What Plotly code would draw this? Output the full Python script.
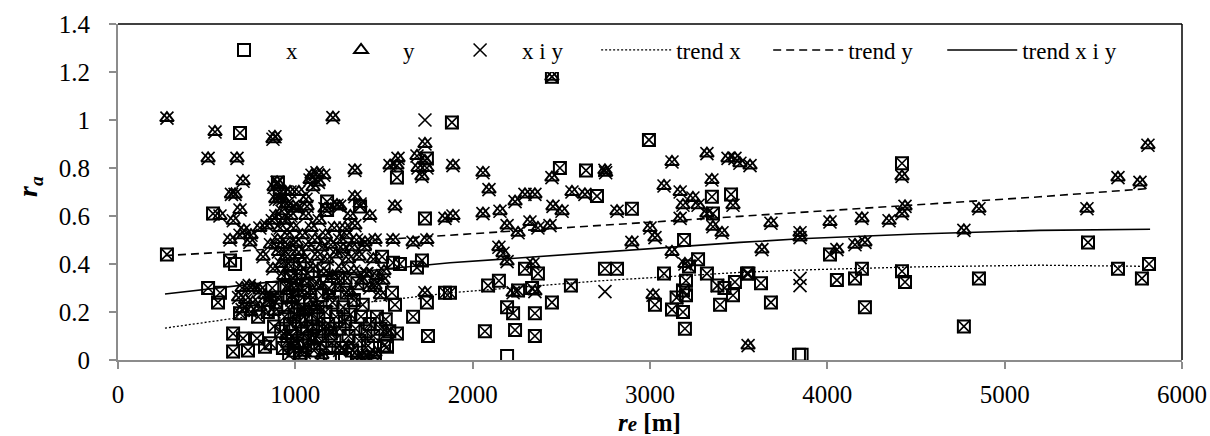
import plotly.graph_objects as go

# ---------------- data ----------------
# series "x" (squares) that also carry an "x i y" cross
sq_x = [276, 536, 688, 632, 508, 575, 564, 649, 705, 784, 829, 649, 733, 688, 790,
        902, 913, 1179, 1179, 1365, 1573, 1742, 1883, 1590, 1551, 1489, 1714, 1686,
        1844, 1742, 1664, 1748, 1562, 1545, 1573, 1517, 1731,
        900, 920, 930, 940, 950, 955, 960, 965, 970, 975, 980, 985, 990, 995, 1000,
        1005, 1010, 1015, 1020, 1025, 1030, 1040, 1045, 1050, 1055, 1060, 1065, 1070,
        1080, 1085, 1090, 1100, 1105, 1110, 1120, 1125, 1130, 1140, 1150, 1155, 1160,
        1170, 1175, 1185, 1190, 1200, 1210, 1220, 1230, 1240, 1250, 1260, 1270, 1280,
        1290, 1300, 1310, 1320, 1330, 1340, 1350, 1360, 1370, 1380, 1395, 1410, 1420,
        1440, 1460, 1480, 1500, 1510, 1530, 860, 880, 890, 870, 845,
        1872, 2087, 2148, 2069, 2239, 2228, 2194, 2256, 2335, 2295, 2368, 2351, 2351,
        2447, 2554, 2746, 2814, 2492, 2639, 2701, 2898, 2994, 3349, 3457, 3355, 3192,
        3271, 3321, 3079, 3203, 3479, 3547, 3395, 3468, 3197, 3124, 3186, 3028, 3186,
        3203, 3150, 3220, 3380, 3420, 2447,
        3555, 3626, 3682, 4054, 4156, 4195, 4212, 4015, 4421, 4438, 4421, 4855, 4770,
        5470, 5639, 5774, 5814]
sq_y = [0.44, 0.61, 0.946, 0.415, 0.30, 0.28, 0.24, 0.11, 0.09, 0.09, 0.055, 0.035, 0.04, 0.195, 0.18,
        0.74, 0.695, 0.66, 0.625, 0.64, 0.76, 0.84, 0.99, 0.40, 0.405, 0.43, 0.415, 0.385,
        0.28, 0.24, 0.18, 0.10, 0.23, 0.28, 0.11, 0.055, 0.59,
        0.26, 0.12, 0.05, 0.18, 0.30, 0.08, 0.22, 0.02, 0.15, 0.35, 0.10, 0.27, 0.04, 0.19, 0.13,
        0.31, 0.07, 0.24, 0.16, 0.40, 0.03, 0.11, 0.21, 0.29, 0.06, 0.17, 0.13, 0.36,
        0.09, 0.25, 0.19, 0.14, 0.04, 0.32, 0.10, 0.22, 0.17, 0.07, 0.27, 0.13, 0.38,
        0.20, 0.05, 0.15, 0.30, 0.11, 0.24, 0.08, 0.18, 0.34, 0.13, 0.05, 0.22, 0.16,
        0.28, 0.10, 0.19, 0.04, 0.25, 0.13, 0.32, 0.08, 0.18, 0.23, 0.12, 0.06, 0.15,
        0.10, 0.18, 0.13, 0.06, 0.17, 0.12, 0.07, 0.14, 0.24, 0.30, 0.20,
        0.28, 0.31, 0.33, 0.12, 0.125, 0.195, 0.22, 0.29, 0.30, 0.38, 0.36, 0.195, 0.10,
        0.24, 0.31, 0.38, 0.38, 0.80, 0.79, 0.683, 0.63, 0.917, 0.68, 0.69, 0.61, 0.50,
        0.42, 0.36, 0.36, 0.33, 0.325, 0.36, 0.23, 0.27, 0.13, 0.21, 0.20, 0.23, 0.29,
        0.27, 0.26, 0.39, 0.31, 0.30, 1.18,
        0.36, 0.32, 0.24, 0.333, 0.34, 0.38, 0.22, 0.44, 0.37, 0.325, 0.82, 0.34, 0.14,
        0.49, 0.38, 0.34, 0.40]

# series "x" squares without a cross
sq_only_x = [2194, 3840, 3855, 660, 1026, 1195, 1280, 1449]
sq_only_y = [0.017, 0.022, 0.022, 0.40, 0.008, 0.008, 0.008, 0.008]

# series "y" (triangles) that also carry an "x i y" cross
tri_x = [276, 547, 508, 671, 705, 660, 688, 575, 874, 885, 897, 930, 970, 987, 1066,
         1083, 1122, 1130, 1212, 1336, 1336, 1365, 1573, 1562, 1534, 1579, 1686, 1731,
         1692, 1742, 1714, 1731, 1094, 1167, 1235, 1844, 1336, 1393, 1551, 1664, 1742,
         1731, 1517, 1449, 1494, 1404, 1382, 1449, 1404, 1889, 1889,
         632, 688, 744, 818, 874, 640, 700, 740, 770, 800, 830, 860, 680, 720, 760, 700,
         750, 800, 850, 880, 710, 750, 800, 840, 870, 890, 860, 650,
         880, 890, 900, 905, 910, 915, 920, 925, 930, 935, 940, 945, 950, 955, 960, 965,
         970, 975, 980, 985, 990, 1000, 1005, 1010, 1015, 1020, 1030, 1040, 1045, 1050,
         1060, 1065, 1075, 1085, 1090, 1100, 1110, 1115, 1125, 1135, 1140, 1150, 1160,
         1170, 1180, 1190, 1200, 1210, 1220, 1230, 1240, 1250, 1260, 1270, 1280, 1290,
         1300, 1310, 1320, 1330, 1345, 1360, 1375, 1390, 1400, 1420, 1440, 1460, 1480,
         1500, 950, 1000, 1050, 1100, 1150, 1200, 1250, 1300, 1350, 1440, 1060, 1100,
         1160, 1020, 945, 1250, 1420, 1450, 1310, 1280,
         2058, 2092, 2058, 2154, 2239, 2295, 2351, 2447, 2560, 2633, 2746, 2750, 2453,
         2504, 2194, 2256, 2323, 2368, 2436, 2814, 2148, 2171, 2194, 2340, 3124, 3321,
         3479, 3349, 3079, 3170, 3186, 3242, 3271, 3321, 3468, 3355, 3406, 3000, 3028,
         3170, 2898, 3124, 3197, 2228, 2351, 3017, 3553, 2447, 3507, 3440,
         3564, 3682, 3631, 3846, 3846, 4015, 4054, 4156, 4212, 4195, 4348, 4421, 4438,
         4855, 4770, 5808, 5639, 5763, 5464, 4421]
tri_y = [1.008, 0.95, 0.84, 0.84, 0.745, 0.69, 0.625, 0.60, 0.92, 0.93, 0.74, 0.67, 0.70, 0.64, 0.64,
         0.75, 0.78, 0.74, 1.01, 0.79, 0.68, 0.65, 0.81, 0.64, 0.81, 0.84, 0.85, 0.83,
         0.80, 0.80, 0.765, 0.90, 0.77, 0.63, 0.645, 0.59, 0.56, 0.49, 0.50, 0.49, 0.50,
         0.28, 0.115, 0.31, 0.33, 0.36, 0.01, 0.03, 0.02, 0.81, 0.60,
         0.50, 0.52, 0.49, 0.43, 0.38, 0.69, 0.30, 0.31, 0.30, 0.29, 0.27, 0.26, 0.26, 0.25, 0.24, 0.21,
         0.20, 0.22, 0.24, 0.20, 0.54, 0.52, 0.55, 0.56, 0.58, 0.67, 0.48, 0.58,
         0.72, 0.60, 0.50, 0.45, 0.67, 0.55, 0.40, 0.62, 0.48, 0.35, 0.58, 0.43, 0.65, 0.52, 0.38, 0.30,
         0.47, 0.60, 0.25, 0.42, 0.55, 0.33, 0.49, 0.63, 0.28, 0.45, 0.37, 0.52, 0.20, 0.42,
         0.60, 0.32, 0.47, 0.27, 0.55, 0.38, 0.50, 0.22, 0.43, 0.58, 0.31, 0.47, 0.36,
         0.52, 0.42, 0.27, 0.48, 0.35, 0.55, 0.44, 0.30, 0.50, 0.38, 0.46, 0.33, 0.52,
         0.42, 0.28, 0.47, 0.37, 0.50, 0.43, 0.33, 0.47, 0.36, 0.30, 0.42, 0.35, 0.27,
         0.37, 0.10, 0.06, 0.03, 0.08, 0.02, 0.12, 0.04, 0.06, 0.02, 0.02, 0.67, 0.72,
         0.77, 0.70, 0.70, 0.64, 0.60, 0.50, 0.60, 0.55,
         0.78, 0.71, 0.61, 0.62, 0.66, 0.69, 0.69, 0.76, 0.70, 0.69, 0.79, 0.78, 0.64,
         0.62, 0.56, 0.53, 0.575, 0.55, 0.56, 0.62, 0.47, 0.445, 0.41, 0.40, 0.825, 0.86,
         0.84, 0.75, 0.725, 0.70, 0.645, 0.675, 0.645, 0.61, 0.645, 0.555, 0.53, 0.55, 0.51,
         0.59, 0.49, 0.45, 0.40, 0.28, 0.285, 0.27, 0.06, 1.18, 0.82, 0.84,
         0.81, 0.57, 0.46, 0.53, 0.51, 0.575, 0.46, 0.48, 0.49, 0.59, 0.58, 0.61, 0.64,
         0.63, 0.54, 0.895, 0.76, 0.74, 0.63, 0.765]

# "x i y" crosses without a square/triangle underneath
xy_only_x = [1731, 2746, 3846, 3846]
xy_only_y = [1.00, 0.285, 0.34, 0.31]

# combined series
x_series_x = sq_x + sq_only_x
x_series_y = sq_y + sq_only_y
xy_series_x = sq_x + tri_x + xy_only_x
xy_series_y = sq_y + tri_y + xy_only_y

# trend lines
trend_px = [265, 620, 1000, 1449, 1872, 2718, 3507, 3846, 4500, 5199, 5820]
trend_x_y = [0.133, 0.17, 0.205, 0.245, 0.28, 0.33, 0.365, 0.375, 0.388, 0.395, 0.39]
trend_y_y = [0.435, 0.45, 0.47, 0.50, 0.52, 0.56, 0.60, 0.615, 0.645, 0.68, 0.715]
trend_xy_y = [0.275, 0.305, 0.34, 0.375, 0.405, 0.45, 0.49, 0.505, 0.525, 0.54, 0.545]

X_TITLE = "<b><i>r</i><span style='font-size:21px'><i>e</i></span> [m]</b>"
Y_TITLE = "<b><i>r<sub>a</sub></i></b>"

FONT = "'Liberation Serif', Tinos, 'Times New Roman', 'DejaVu Serif', serif"
BLACK = "#000000"

fig = go.Figure()

fig.add_trace(go.Scatter(x=trend_px, y=trend_x_y, mode="lines", name="trend x",
                         line=dict(color=BLACK, width=1.3, dash="2px,2px"),
                         legend="legend4"))
fig.add_trace(go.Scatter(x=trend_px, y=trend_y_y, mode="lines", name="trend y",
                         line=dict(color=BLACK, width=1.6, dash="8px,5px"),
                         legend="legend5"))
fig.add_trace(go.Scatter(x=trend_px, y=trend_xy_y, mode="lines", name="trend x i y",
                         line=dict(color=BLACK, width=1.6),
                         legend="legend6"))

fig.add_trace(go.Scatter(x=x_series_x, y=x_series_y, mode="markers", name="x",
                         marker=dict(symbol="square-open", size=12, color=BLACK,
                                     line=dict(width=2, color=BLACK)),
                         legend="legend"))
fig.add_trace(go.Scatter(x=tri_x, y=tri_y, mode="markers", name="y",
                         marker=dict(symbol="triangle-up-open", size=12, color=BLACK,
                                     line=dict(width=2, color=BLACK)),
                         legend="legend2"))
fig.add_trace(go.Scatter(x=xy_series_x, y=xy_series_y, mode="markers", name="x i y",
                         marker=dict(symbol="x-thin-open", size=13, color=BLACK,
                                     line=dict(width=1.6, color=BLACK)),
                         legend="legend3"))

L = 118.0
W = 1063.7
T = 24.0
H = 336.0


def lx(px):
    return (px - L) / W


def ly(py):
    return (T + H - py) / H


leg_common = dict(orientation="h", yanchor="middle", y=ly(50), xanchor="left",
                  bgcolor="rgba(255,255,255,1)", borderwidth=0,
                  font=dict(family=FONT, size=23, color=BLACK))

fig.update_layout(
    width=1210, height=436,
    margin=dict(l=118, r=28, t=24, b=76),
    paper_bgcolor="white", plot_bgcolor="white",
    font=dict(family=FONT, color=BLACK),
    showlegend=True,
    legend=dict(leg_common, x=lx(202), itemwidth=74),
    legend2=dict(leg_common, x=lx(319), itemwidth=74),
    legend3=dict(leg_common, x=lx(438), itemwidth=74),
    legend4=dict(leg_common, x=lx(596), itemwidth=70),
    legend5=dict(leg_common, x=lx(768), itemwidth=70),
    legend6=dict(leg_common, x=lx(942), itemwidth=70),
    xaxis=dict(range=[0, 6000], dtick=1000, tick0=0, showgrid=False, zeroline=False,
               showline=True, linecolor="#8c8c8c", linewidth=2, automargin=False,
               ticks="outside", ticklen=7, tickcolor="#8c8c8c", tickwidth=1.5,
               ticklabelstandoff=4,
               tickfont=dict(family=FONT, size=25, color=BLACK)),
    yaxis=dict(range=[0, 1.4], dtick=0.2, tick0=0, showgrid=False, zeroline=False,
               showline=True, linecolor="#8c8c8c", linewidth=2, automargin=False,
               ticks="outside", ticklen=7, tickcolor="#8c8c8c", tickwidth=1.5,
               ticklabelstandoff=14,
               tickfont=dict(family=FONT, size=25, color=BLACK)),
    annotations=[
        dict(text=X_TITLE, xref="paper", yref="paper", x=lx(649), y=ly(438),
             xanchor="center", yanchor="bottom", showarrow=False,
             font=dict(family=FONT, size=25, color=BLACK)),
        dict(text=Y_TITLE, xref="paper", yref="paper", x=lx(30), y=ly(186),
             xanchor="center", yanchor="middle", showarrow=False, textangle=-90,
             font=dict(family=FONT, size=28, color=BLACK)),
    ],
    shapes=[
        dict(type="line", xref="paper", yref="paper", x0=0, x1=1, y0=1, y1=1,
             line=dict(color=BLACK, width=1.5)),
        dict(type="line", xref="paper", yref="paper", x0=1, x1=1, y0=0, y1=1,
             line=dict(color=BLACK, width=1.5)),
    ],
)

fig.write_html("out.html")
